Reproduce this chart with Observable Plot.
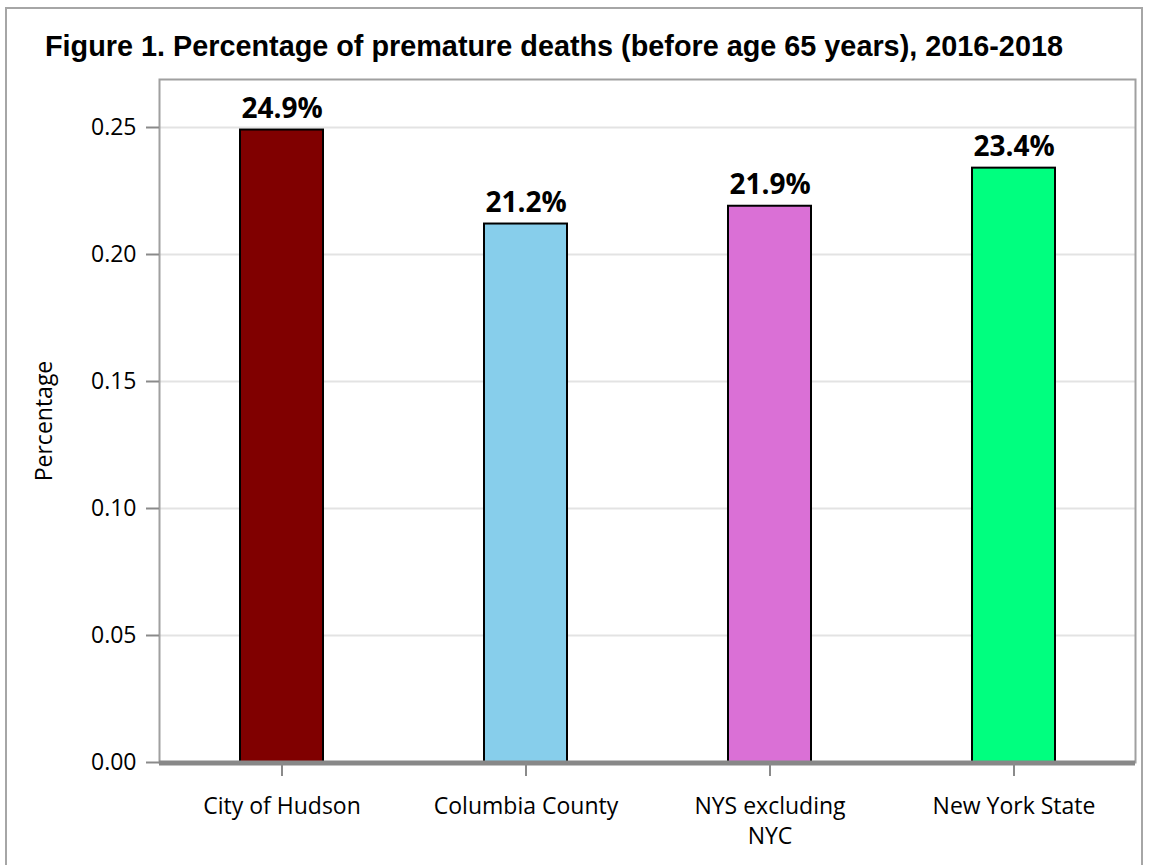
<!DOCTYPE html>
<html>
<head>
<meta charset="utf-8">
<script src="https://cdn.jsdelivr.net/npm/d3@7"></script>
<script src="https://cdn.jsdelivr.net/npm/@observablehq/plot@0.6"></script>
<style>
  html, body { margin: 0; padding: 0; background: #fff; overflow: hidden; }
  #wrap { position: relative; width: 1149px; height: 865px; }
  #border { position: absolute; left: 5px; top: 7px; width: 1138px; height: 900px; border: 2px solid #a6a6a6; box-sizing: border-box; }
  #title { position: absolute; left: 45px; top: 32px; font-family: "Liberation Sans", Arial, sans-serif; font-weight: bold; font-size: 28.8px; color: #000; white-space: nowrap; line-height: 1; }
  #chart { position: absolute; left: 0; top: 0; }
</style>
</head>
<body>
<div id="wrap">
  <div id="border"></div>
  <div id="title">Figure 1. Percentage of premature deaths (before age 65 years), 2016-2018</div>
  <div id="chart"></div>
</div>
<script>
const categories = ["City of Hudson", "Columbia County", "NYS excluding NYC", "New York State"];
const tickLabels = ["City of Hudson", "Columbia County", "NYS excluding\nNYC", "New York State"];
const values = [0.249, 0.212, 0.219, 0.234];
const valueLabels = ["24.9%", "21.2%", "21.9%", "23.4%"];
const barColors = ["#800000", "#87CEEB", "#DA70D6", "#00FF7F"];
const yTicks = [0, 0.05, 0.10, 0.15, 0.20, 0.25];

const data = categories.map((c, i) => ({cat: c, value: values[i], label: valueLabels[i], color: barColors[i]}));
const tickLabelOf = new Map(categories.map((c, i) => [c, tickLabels[i]]));

const chart = Plot.plot({
  width: 1149,
  height: 865,
  marginLeft: 159,
  marginRight: 14,
  marginTop: 79,
  marginBottom: 103,
  x: {domain: categories, paddingInner: 0.66, paddingOuter: 0.33, label: null},
  y: {domain: [0, 0.2689], label: null},
  style: {fontFamily: "'Open Sans', sans-serif", fontSize: "23px", background: "transparent", color: "#000"},
  marks: [
    Plot.gridY(yTicks, {stroke: "#e3e3e3", strokeOpacity: 1, strokeWidth: 2}),
    Plot.barY(data, {x: "cat", y: "value", fill: "color", stroke: "#000", strokeWidth: 2}),
    Plot.text(data, {x: "cat", y: "value", text: "label", lineAnchor: "bottom", dy: -12, fontWeight: "bold", fontSize: 28, fill: "#000"}),
    Plot.frame({stroke: "#a0a0a0", strokeWidth: 2}),
    Plot.ruleX([0], {frameAnchor: "left", stroke: "#9a9a9a", strokeWidth: 3}),
    Plot.ruleY([0], {stroke: "#888888", strokeWidth: 5, dy: 0.5}),
    Plot.axisY({ticks: yTicks, tickFormat: d3.format(".2f"), tickSize: 13, tickPadding: 10, stroke: "#8a8a8a", strokeWidth: 2, label: null, fontSize: 23, fill: "#000"}),
    Plot.axisX({tickSize: 14, tickPadding: 16, stroke: "#8a8a8a", strokeWidth: 2, label: null, fontSize: 23, lineHeight: 1.3, fill: "#000", tickFormat: d => tickLabelOf.get(d)})
  ]
});

// y axis title
const svg = d3.select(chart);
svg.append("text")
  .attr("transform", "translate(52,421) rotate(-90)")
  .attr("text-anchor", "middle")
  .attr("font-family", "'Open Sans', sans-serif")
  .attr("font-size", 23)
  .attr("fill", "#000")
  .text("Percentage");

document.getElementById("chart").append(chart);
</script>
</body>
</html>
